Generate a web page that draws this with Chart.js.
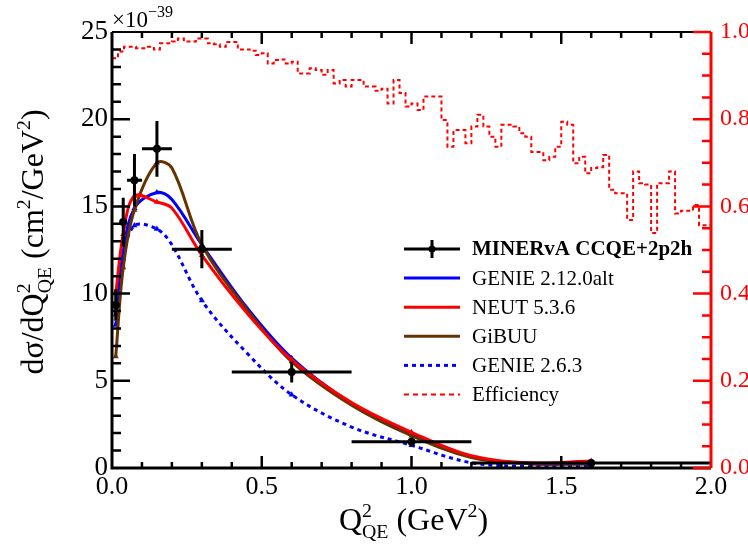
<!DOCTYPE html>
<html>
<head>
<meta charset="utf-8">
<script src="https://cdn.jsdelivr.net/npm/chart.js@4.4.1/dist/chart.umd.min.js"></script>
<style>
  html, body { margin: 0; padding: 0; background: #fff; }
  #wrap { width: 748px; height: 550px; }
</style>
</head>
<body>
<div id="wrap"><canvas id="c" width="748" height="550"></canvas></div>
<script>
/* MINERvA CCQE+2p2h dsigma/dQ2_QE with generator comparisons + efficiency */

// measurement bins (GeV^2)
const binCenters = [0.0125, 0.0375, 0.075, 0.15, 0.3, 0.6, 1.0, 1.6];
const binLow = [0, 0.025, 0.05, 0.1, 0.2, 0.4, 0.8, 1.2];
const binHigh = [0.025, 0.05, 0.1, 0.2, 0.4, 0.8, 1.2, 2.0];

// cross section, units of 1e-39 cm^2/GeV^2
const minervaVals = [9.35, 14.1, 16.5, 18.3, 12.55, 5.5, 1.5, 0.29];
const minervaErrs = [0.9, 1.4, 1.5, 1.6, 1.1, 0.6, 0.25, 0.05];

// generator curves at these Q2 values
const curveQ = [0.0125, 0.0375, 0.075, 0.15, 0.2, 0.3, 0.45, 0.6, 0.8, 1.0, 1.2, 1.4, 1.6];
const genieAlt = [8.8, 12.4, 14.9, 15.8, 15.4, 12.8, 9.2, 6.3, 3.7, 1.95, 0.65, 0.25, 0.25];
const neut = [10.0, 13.4, 15.6, 15.25, 14.9, 12.2, 8.9, 6.2, 3.75, 2.05, 0.7, 0.3, 0.4];
const gibuu = [6.4, 11.5, 14.8, 17.5, 17.2, 12.8, 9.1, 6.1, 3.6, 1.85, 0.6, 0.25, 0.25];
const genie263 = [8.2, 12.0, 13.9, 13.7, 12.8, 9.6, 6.6, 4.2, 2.35, 1.3, 0.3, 0.1, 0.15];

// selection efficiency, 0.02 GeV^2 bins from 0 to 2
const effBinWidth = 0.02;
const efficiency = [
  0.94, 0.955, 0.966, 0.966, 0.963, 0.963, 0.966, 0.96, 0.974, 0.974,
  0.978, 0.985, 0.978, 0.978, 0.985, 0.985, 0.974, 0.972, 0.966, 0.977,
  0.977, 0.96, 0.96, 0.957, 0.947, 0.951, 0.928, 0.936, 0.937, 0.928,
  0.932, 0.905, 0.905, 0.917, 0.913, 0.902, 0.913, 0.882, 0.89, 0.875,
  0.89, 0.89, 0.875, 0.875, 0.865, 0.87, 0.836, 0.89, 0.86, 0.829,
  0.836, 0.821, 0.852, 0.852, 0.852, 0.798, 0.737, 0.775, 0.775, 0.745,
  0.783, 0.81, 0.783, 0.76, 0.737, 0.787, 0.787, 0.783, 0.768, 0.76,
  0.725, 0.725, 0.706, 0.714, 0.737, 0.794, 0.787, 0.699, 0.714, 0.676,
  0.688, 0.69, 0.718, 0.638, 0.63, 0.63, 0.569, 0.68, 0.653, 0.65,
  0.539, 0.653, 0.653, 0.68, 0.584, 0.59, 0.59, 0.603, 0.557, 0.557
];

const xTicks = [0, 0.5, 1.0, 1.5, 2.0];
const yTicks = [0, 5, 10, 15, 20, 25];
const effTicks = [0, 0.2, 0.4, 0.6, 0.8, 1.0];

const BLUE = '#0000ff', RED = '#ff0000', BROWN = '#663300';
const SERIF = "'Liberation Serif', 'Times New Roman', serif";

const effPts = efficiency.map((v, i) => ({ x: i * effBinWidth, y: v }));
effPts.push({ x: efficiency.length * effBinWidth, y: efficiency[efficiency.length - 1] });

const legendItems = [
  { label: 'MINERvA CCQE+2p2h', color: '#000', data: true, bold: true },
  { label: 'GENIE 2.12.0alt', color: BLUE },
  { label: 'NEUT 5.3.6', color: RED },
  { label: 'GiBUU', color: BROWN },
  { label: 'GENIE 2.6.3', color: BLUE, dash: [4, 4] },
  { label: 'Efficiency', color: RED, dash: [5, 4], thin: true },
];

function mc(label, ys, color, order, dash) {
  return {
    label, data: curveQ.map((x, i) => ({ x, y: ys[i] })),
    borderColor: color, backgroundColor: color,
    borderWidth: 3, borderDash: dash || [], tension: 0.35, order,
    pointStyle: 'triangle', pointBorderWidth: 0,
    pointRadius: (c) => (c.raw && binCenters.includes(c.raw.x) ? 3.5 : 0),
    yAxisID: 'y',
  };
}

// draw text pieces with sub/superscripts, returns width
function richText(ctx, parts, size, x, y, measureOnly) {
  let cx = x;
  for (const p of parts) {
    const fs = p.s ? size * 0.62 : size;
    ctx.font = `${fs}px ${SERIF}`;
    const w = ctx.measureText(p.t).width;
    const dy = p.s === 'sup' ? -size * 0.42 : p.s === 'sub' ? size * 0.25 : 0;
    if (!measureOnly) ctx.fillText(p.t, cx, y + dy);
    if (!p.stack) cx += w;
  }
  return cx - x;
}

const decor = {
  id: 'decor',
  afterDatasetsDraw(chart) {
    const { ctx, chartArea: a, scales: { x, y, y2 } } = chart;
    ctx.save();
    // data error bars
    ctx.strokeStyle = '#000';
    ctx.lineWidth = 3;
    binCenters.forEach((q, i) => {
      const py = y.getPixelForValue(minervaVals[i]);
      const px = x.getPixelForValue(q);
      ctx.beginPath();
      ctx.moveTo(x.getPixelForValue(binLow[i]), py);
      ctx.lineTo(x.getPixelForValue(binHigh[i]), py);
      ctx.moveTo(px, y.getPixelForValue(minervaVals[i] - minervaErrs[i]));
      ctx.lineTo(px, y.getPixelForValue(minervaVals[i] + minervaErrs[i]));
      ctx.stroke();
    });

    // frame
    ctx.lineCap = 'butt';
    ctx.beginPath();
    ctx.moveTo(a.left, a.top); ctx.lineTo(a.left, a.bottom); ctx.lineTo(a.right, a.bottom);
    ctx.stroke();
    ctx.lineWidth = 2;
    ctx.beginPath();
    ctx.moveTo(a.left, a.top); ctx.lineTo(a.right, a.top);
    ctx.stroke();

    // x ticks (bottom and top, inward)
    ctx.lineWidth = 2.5;
    ctx.beginPath();
    for (let k = 1; k < 20; k++) {
      const v = k * 0.1;
      const px = x.getPixelForValue(v);
      const len = k % 5 === 0 ? 12 : 6;
      ctx.moveTo(px, a.bottom); ctx.lineTo(px, a.bottom - len);
      ctx.moveTo(px, a.top); ctx.lineTo(px, a.top + len);
    }
    // y ticks (left)
    for (let k = 1; k < 25; k++) {
      const py = y.getPixelForValue(k);
      const len = k % 5 === 0 ? 18 : 9;
      ctx.moveTo(a.left, py); ctx.lineTo(a.left + len, py);
    }
    ctx.stroke();

    // efficiency axis (right, red)
    ctx.strokeStyle = RED;
    ctx.lineWidth = 3;
    ctx.beginPath();
    ctx.moveTo(a.right, a.top); ctx.lineTo(a.right, a.bottom);
    ctx.stroke();
    ctx.lineWidth = 2.5;
    ctx.beginPath();
    for (let k = 0; k <= 20; k++) {
      const py = y2.getPixelForValue(k * 0.05);
      const len = k % 4 === 0 ? 18 : 9;
      ctx.moveTo(a.right, py); ctx.lineTo(a.right - len, py);
    }
    ctx.stroke();
    ctx.restore();
  },
  afterDraw(chart) {
    const { ctx, chartArea: a } = chart;
    ctx.save();
    ctx.fillStyle = '#000';
    ctx.textBaseline = 'alphabetic';

    // exponent
    ctx.font = `23px ${SERIF}`;
    ctx.fillText('\u00d710', a.left, 27);
    const w10 = ctx.measureText('\u00d710').width;
    ctx.font = `16px ${SERIF}`;
    ctx.fillText('\u221239', a.left + w10, 17);

    // x title
    const xParts = [
      { t: 'Q' }, { t: '2', s: 'sup', stack: true }, { t: 'QE', s: 'sub' },
      { t: ' (GeV' }, { t: '2', s: 'sup' }, { t: ')' },
    ];
    const xw = richText(ctx, xParts, 32, 0, 0, true);
    richText(ctx, xParts, 32, (a.left + a.right) / 2 - xw / 2 + 2, 530);

    // y title (rotated)
    const yParts = [
      { t: 'd\u03c3/dQ' }, { t: '2', s: 'sup', stack: true }, { t: 'QE', s: 'sub' },
      { t: ' (cm' }, { t: '2', s: 'sup' }, { t: '/GeV' }, { t: '2', s: 'sup' }, { t: ')' },
    ];
    const yw = richText(ctx, yParts, 32, 0, 0, true);
    ctx.translate(43, 242);
    ctx.rotate(-Math.PI / 2);
    richText(ctx, yParts, 32, -yw / 2, 0);
    ctx.setTransform(1, 0, 0, 1, 0, 0);

    // legend
    const lx0 = 404, lx1 = 460, tx = 472;
    legendItems.forEach((it, i) => {
      const cy = 249 + i * 29.1;
      ctx.strokeStyle = it.color;
      ctx.lineWidth = it.thin ? 2 : 3;
      ctx.setLineDash(it.dash || []);
      ctx.beginPath();
      ctx.moveTo(lx0, cy); ctx.lineTo(lx1, cy);
      ctx.stroke();
      ctx.setLineDash([]);
      if (it.data) {
        const mx = (lx0 + lx1) / 2;
        ctx.beginPath();
        ctx.moveTo(mx, cy - 9); ctx.lineTo(mx, cy + 9);
        ctx.stroke();
        ctx.beginPath();
        ctx.arc(mx, cy, 3.5, 0, Math.PI * 2);
        ctx.fillStyle = '#000';
        ctx.fill();
      }
      ctx.fillStyle = '#000';
      ctx.font = `${it.bold ? 'bold ' : ''}21px ${SERIF}`;
      ctx.textBaseline = 'middle';
      ctx.fillText(it.label, tx, cy + 1);
    });
    ctx.restore();
  },
};

new Chart(document.getElementById('c'), {
  type: 'line',
  data: {
    datasets: [
      {
        label: 'MINERvA CCQE+2p2h', data: binCenters.map((x, i) => ({ x, y: minervaVals[i] })),
        showLine: false, order: 0,
        pointRadius: 4, pointBackgroundColor: '#000', pointBorderWidth: 0, yAxisID: 'y',
      },
      mc('NEUT 5.3.6', neut, RED, 1),
      mc('GiBUU', gibuu, BROWN, 2),
      mc('GENIE 2.12.0alt', genieAlt, BLUE, 3),
      mc('GENIE 2.6.3', genie263, BLUE, 4, [4, 4]),
      {
        label: 'Efficiency', data: effPts, borderColor: RED, borderWidth: 2,
        borderDash: [4, 3], stepped: 'before', pointRadius: 0, order: 5, yAxisID: 'y2',
      },
    ],
  },
  options: {
    responsive: false,
    animation: false,
    devicePixelRatio: 1,
    layout: { padding: { top: 32, left: 0, right: 0, bottom: 0 } },
    plugins: { legend: { display: false }, tooltip: { enabled: false } },
    scales: {
      x: {
        type: 'linear', min: 0, max: 2,
        afterFit: (s) => { s.height = 82; },
        afterBuildTicks: (s) => { s.ticks = xTicks.map((v) => ({ value: v })); },
        ticks: { callback: (v) => v.toFixed(1), font: { family: SERIF, size: 26 }, color: '#000', padding: 4, maxRotation: 0 },
        grid: { display: false, drawTicks: false }, border: { display: false },
      },
      y: {
        type: 'linear', position: 'left', min: 0, max: 25,
        afterFit: (s) => { s.width = 112; },
        afterBuildTicks: (s) => { s.ticks = yTicks.map((v) => ({ value: v })); },
        ticks: { font: { family: SERIF, size: 27 }, color: '#000', padding: 4 },
        grid: { display: false, drawTicks: false }, border: { display: false },
      },
      y2: {
        type: 'linear', position: 'right', min: 0, max: 1,
        afterFit: (s) => { s.width = 37; },
        afterBuildTicks: (s) => { s.ticks = effTicks.map((v) => ({ value: v })); },
        ticks: { callback: (v) => v.toFixed(1), font: { family: SERIF, size: 24 }, color: RED, padding: 9 },
        grid: { display: false, drawTicks: false }, border: { display: false },
      },
    },
  },
  plugins: [decor],
});
</script>
</body>
</html>
